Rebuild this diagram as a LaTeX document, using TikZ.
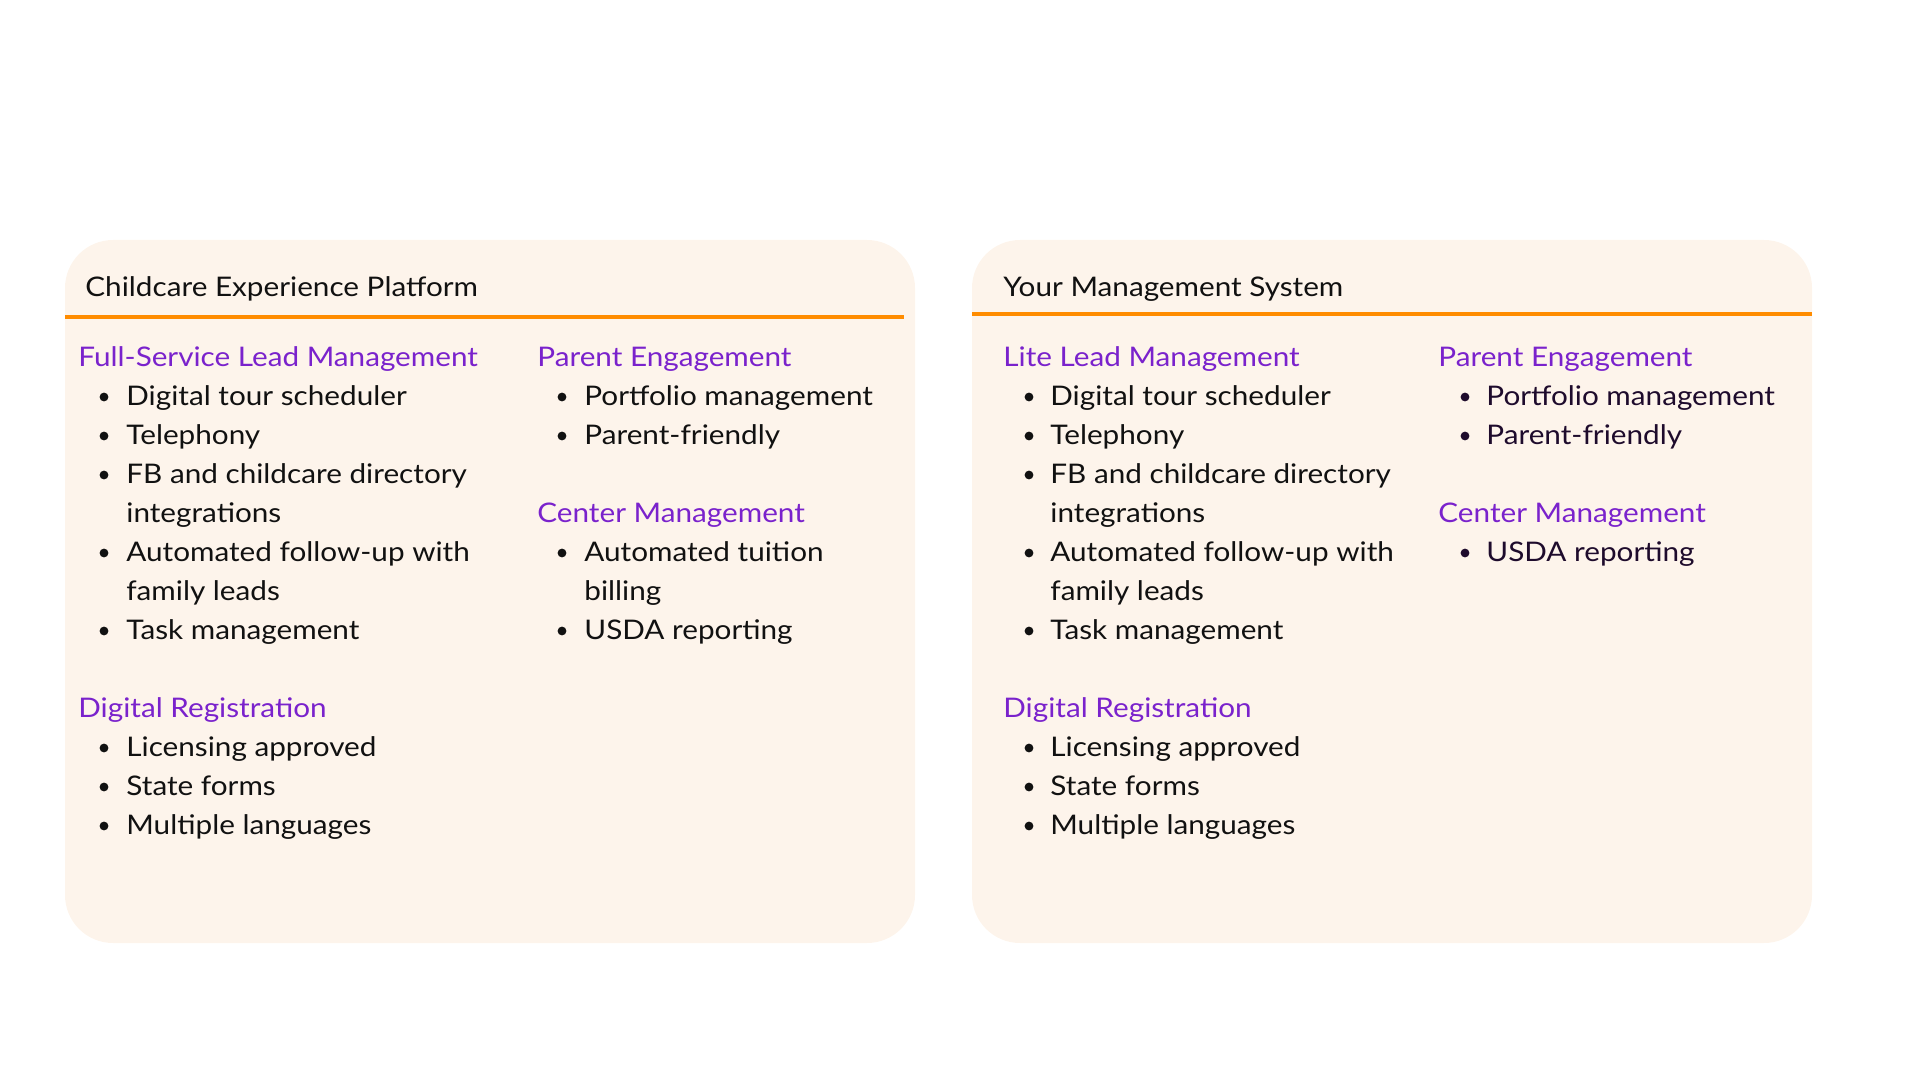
\documentclass[tikz,border=0pt]{standalone}
\usepackage{fontspec}
\setmainfont[FakeStretch=1.1]{Lato}
\definecolor{cardbg}{HTML}{FDF4EB}
\definecolor{rulecol}{HTML}{FF8C00}
\definecolor{topiccol}{HTML}{7A22CC}
\definecolor{ink}{HTML}{111111}
\definecolor{inkplum}{HTML}{1E0B2C}
\tikzset{
  card/.style={fill=cardbg, rounded corners=24pt},
  rule line/.style={draw=rulecol, line width=2pt},
  title/.style={anchor=base west, inner sep=0pt, text=ink, font=\fontsize{13.5}{16}\selectfont},
  topic/.style={title, text=topiccol},
  item/.style={title}
}
\begin{document}
\begin{tikzpicture}[x=0.5pt,y=-0.5pt]
\useasboundingbox (0,0) rectangle (1920,1080);
% cards
\fill[card] (65,240) rectangle (915,943);
\fill[card] (972,240) rectangle (1812,943);
\draw[rule line] (65,317) -- (904,317);
\draw[rule line] (972,314) -- (1812,314);
% titles
\node[title] (cepTitle) at (85,297) {Childcare Experience Platform};
\node[title] (ymsTitle) at (1003,297) {Your Management System};
% left card, first column
\node[topic] (cepLead) at (78,366) {Full-Service Lead Management};
\node[topic] (cepReg) at (78,717) {Digital Registration};
\foreach \k/\b/\txt in {1/1/Digital tour scheduler, 2/1/Telephony,
  3/1/FB and childcare directory, 4/0/integrations,
  5/1/Automated follow-up with, 6/0/family leads, 7/1/Task management,
  10/1/Licensing approved, 11/1/State forms, 12/1/Multiple languages}
{
  \node[item] (cepA\k) at (126,{366+39*\k}) {\txt};
  \ifnum\b=1 \fill[ink] (104,{358+39*\k}) circle (2.2pt); \fi
}
% left card, second column
\node[topic] (cepParent) at (537,366) {Parent Engagement};
\node[topic] (cepCenter) at (537,522) {Center Management};
\foreach \k/\b/\txt in {1/1/Portfolio management, 2/1/Parent-friendly,
  5/1/Automated tuition, 6/0/billing, 7/1/USDA reporting}
{
  \node[item] (cepB\k) at (584,{366+39*\k}) {\txt};
  \ifnum\b=1 \fill[ink] (562,{358+39*\k}) circle (2.2pt); \fi
}
% right card, first column
\node[topic] (ymsLead) at (1003,366) {Lite Lead Management};
\node[topic] (ymsReg) at (1003,717) {Digital Registration};
\foreach \k/\b/\txt in {1/1/Digital tour scheduler, 2/1/Telephony,
  3/1/FB and childcare directory, 4/0/integrations,
  5/1/Automated follow-up with, 6/0/family leads, 7/1/Task management,
  10/1/Licensing approved, 11/1/State forms, 12/1/Multiple languages}
{
  \node[item] (ymsA\k) at (1050,{366+39*\k}) {\txt};
  \ifnum\b=1 \fill[ink] (1029,{358+39*\k}) circle (2.2pt); \fi
}
% right card, second column
\node[topic] (ymsParent) at (1438,366) {Parent Engagement};
\node[topic] (ymsCenter) at (1438,522) {Center Management};
\foreach \k/\b/\txt in {1/1/Portfolio management, 2/1/Parent-friendly,
  5/1/USDA reporting}
{
  \node[item, text=inkplum] (ymsB\k) at (1486,{366+39*\k}) {\txt};
  \ifnum\b=1 \fill[inkplum] (1465,{358+39*\k}) circle (2.2pt); \fi
}
\end{tikzpicture}
\end{document}
